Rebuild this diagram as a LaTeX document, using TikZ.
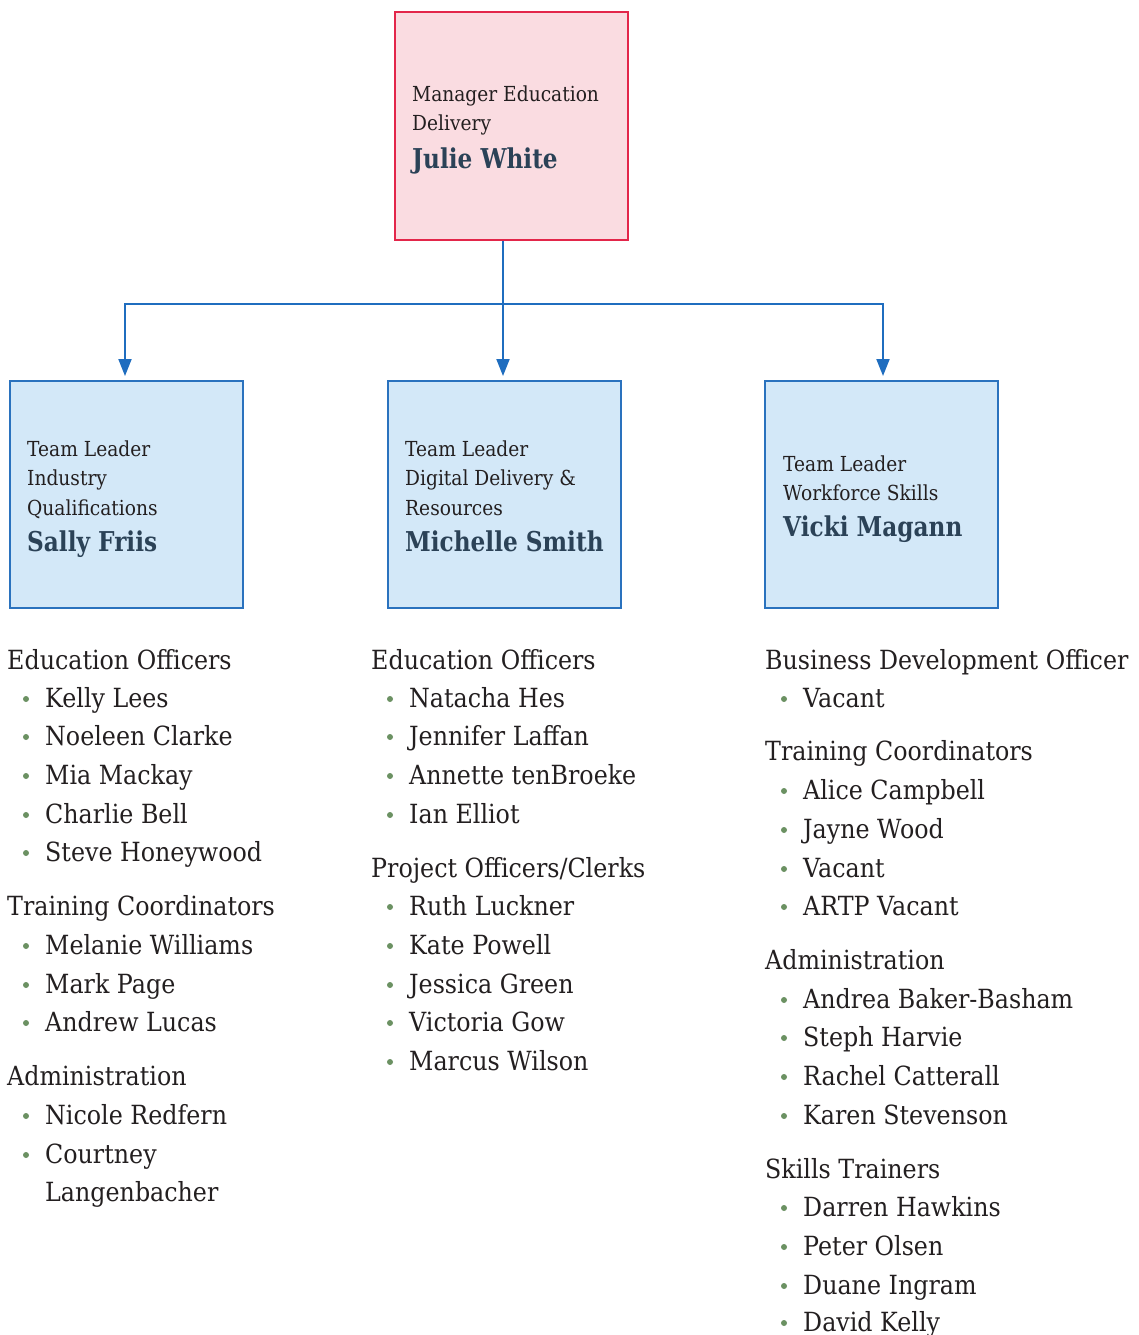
\documentclass[tikz,border=0pt]{standalone}
\usepackage{fontspec}
\setmainfont{DejaVu Serif}[FakeStretch=0.9]
\newfontfamily\namefont{DejaVu Serif Bold}[FakeStretch=0.85]
\usetikzlibrary{arrows.meta}
\definecolor{txt}{HTML}{231F20}
\definecolor{namec}{HTML}{2B4257}
\definecolor{pinkfill}{HTML}{FADCE1}
\definecolor{pinkline}{HTML}{E3264A}
\definecolor{bluefill}{HTML}{D3E8F8}
\definecolor{blueline}{HTML}{2A72BE}
\definecolor{conncol}{HTML}{1F6DBF}
\definecolor{bulletc}{HTML}{6B9162}
\tikzset{
  topbox/.style={draw=pinkline, fill=pinkfill, line width=2pt, minimum width=233pt, minimum height=228pt, inner sep=0pt},
  tlbox/.style={draw=blueline, fill=bluefill, line width=2pt, minimum width=233pt, minimum height=227pt, inner sep=0pt},
  role/.style={anchor=base west, inner sep=0pt, text=txt, font=\fontsize{20.7}{24}\selectfont},
  pname/.style={anchor=base west, inner sep=0pt, text=namec, font=\namefont\fontsize{27.3}{32}\selectfont},
  head/.style={anchor=base west, inner sep=0pt, text=txt, font=\fontsize{26.4}{30}\selectfont},
  item/.style={anchor=base west, inner sep=0pt, text=txt, font=\fontsize{26.4}{30}\selectfont},
  dot/.style={circle, fill=bulletc, inner sep=0pt, minimum size=6pt},
  conn/.style={draw=conncol, line width=2pt},
  arr/.style={conn, -{Triangle[length=17pt,width=13pt]}, shorten >=5pt},
}
\begin{document}
\begin{tikzpicture}[x=1pt,y=-1pt]
\useasboundingbox (0,0) rectangle (1139,1335);
% boxes
\node[topbox] (mgr) at (511.5,126) {};
\node[tlbox] (tl1) at (126.5,494.5) {};
\node[tlbox] (tl2) at (504.5,494.5) {};
\node[tlbox] (tl3) at (881.5,494.5) {};
% connectors
\coordinate (j) at (503,304);
\coordinate (a1) at (125,381);
\coordinate (a2) at (503,381);
\coordinate (a3) at (883,381);
\draw[conn] (j |- mgr.south) -- (j);
\draw[arr] (j) -| (a1);
\draw[arr] (j) -- (a2);
\draw[arr] (j) -| (a3);
% box texts
\node[role] (m1) at (412,102) {Manager Education};
\node[role] (m2) at (412,131) {Delivery};
\node[pname] (m3) at (412,168) {Julie White};
\node[role] (l1) at (27,456) {Team Leader};
\node[role] (l2) at (27,485) {Industry};
\node[role] (l3) at (27,515) {Qualifications};
\node[pname] (l4) at (27,551) {Sally Friis};
\node[role] (c1) at (405,456) {Team Leader};
\node[role] (c2) at (405,485) {Digital Delivery \&};
\node[role] (c3) at (405,515) {Resources};
\node[pname] (c4) at (405,551) {Michelle Smith};
\node[role] (r1) at (783,471) {Team Leader};
\node[role] (r2) at (783,500) {Workforce Skills};
\node[pname] (r3) at (783,536) {Vicki Magann};
% column 1
\node[head] (h11) at (7,669) {Education Officers};
\foreach \t/\y [count=\i] in {Kelly Lees/707, Noeleen Clarke/745, Mia Mackay/784, Charlie Bell/823, Steve Honeywood/861} {
  \node[item] (i11-\i) at (45,\y) {\t};
  \node[dot] (b11-\i) at (26,\y-8) {};
}
\node[head] (h12) at (7,915) {Training Coordinators};
\foreach \t/\y [count=\i] in {Melanie Williams/954, Mark Page/993, Andrew Lucas/1031} {
  \node[item] (i12-\i) at (45,\y) {\t};
  \node[dot] (b12-\i) at (26,\y-8) {};
}
\node[head] (h13) at (7,1085) {Administration};
\foreach \t/\y [count=\i] in {Nicole Redfern/1124, Courtney/1163} {
  \node[item] (i13-\i) at (45,\y) {\t};
  \node[dot] (b13-\i) at (26,\y-8) {};
}
\node[item] (i13-3) at (45,1201) {Langenbacher};
% column 2
\node[head] (h21) at (371,669) {Education Officers};
\foreach \t/\y [count=\i] in {Natacha Hes/707, Jennifer Laffan/745, Annette tenBroeke/784, Ian Elliot/823} {
  \node[item] (i21-\i) at (409,\y) {\t};
  \node[dot] (b21-\i) at (390,\y-8) {};
}
\node[head] (h22) at (371,877) {Project Officers/Clerks};
\foreach \t/\y [count=\i] in {Ruth Luckner/915, Kate Powell/954, Jessica Green/993, Victoria Gow/1031, Marcus Wilson/1070} {
  \node[item] (i22-\i) at (409,\y) {\t};
  \node[dot] (b22-\i) at (390,\y-8) {};
}
% column 3
\node[head] (h31) at (765,669) {Business Development Officer};
\node[item] (i31-1) at (803,707) {Vacant};
\node[dot] (b31-1) at (784,699) {};
\node[head] (h32) at (765,760) {Training Coordinators};
\foreach \t/\y [count=\i] in {Alice Campbell/799, Jayne Wood/838, Vacant/877, ARTP Vacant/915} {
  \node[item] (i32-\i) at (803,\y) {\t};
  \node[dot] (b32-\i) at (784,\y-8) {};
}
\node[head] (h33) at (765,969) {Administration};
\foreach \t/\y [count=\i] in {Andrea Baker-Basham/1008, Steph Harvie/1046, Rachel Catterall/1085, Karen Stevenson/1124} {
  \node[item] (i33-\i) at (803,\y) {\t};
  \node[dot] (b33-\i) at (784,\y-8) {};
}
\node[head] (h34) at (765,1178) {Skills Trainers};
\foreach \t/\y [count=\i] in {Darren Hawkins/1216, Peter Olsen/1255, Duane Ingram/1294, David Kelly/1331} {
  \node[item] (i34-\i) at (803,\y) {\t};
  \node[dot] (b34-\i) at (784,\y-8) {};
}
\end{tikzpicture}
\end{document}
